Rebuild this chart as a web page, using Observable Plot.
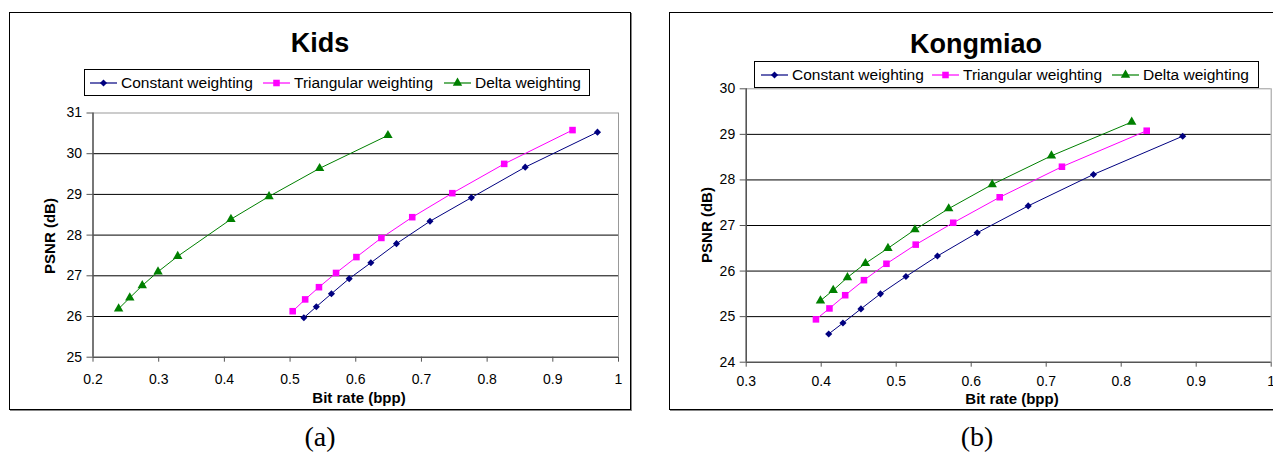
<!DOCTYPE html>
<html><head><meta charset="utf-8">
<script src="https://cdn.jsdelivr.net/npm/d3@7"></script>
<script src="https://cdn.jsdelivr.net/npm/@observablehq/plot@0.6"></script>
<style>
html,body{margin:0;padding:0;background:#fff;}
#root{position:relative;width:1273px;height:452px;overflow:hidden;font-family:"Liberation Sans",Arial,sans-serif;color:#000;}
.frame{position:absolute;border:1px solid #000;box-shadow:1px 1px 0 #888;box-sizing:border-box;}
.abs{position:absolute;white-space:nowrap;line-height:1.15;}
.title{font-weight:bold;font-size:27px;transform:translate(-50%,-50%);}
.axlab{font-weight:bold;font-size:15px;line-height:1;transform:translate(-50%,-50%);}
.ylab{transform:translate(-50%,-50%) rotate(-90deg);}
.cap{font-family:"Liberation Serif","Times New Roman",serif;font-size:28px;transform:translate(-50%,-50%);}
.legend{position:absolute;border:1px solid #000;box-sizing:border-box;background:#fff;}
.litem{position:absolute;top:0;height:100%;display:flex;align-items:center;font-size:15.5px;white-space:nowrap;}
.litem svg{margin-right:4px;overflow:visible;}
.plotwrap{position:absolute;top:0;}
</style></head><body><div id="root"></div>
<script>
// ---- data ----
const seriesNames = ["Constant weighting", "Triangular weighting", "Delta weighting"];
const seriesColors = ["#000080", "#FF00FF", "#008000"];
const seriesSymbols = ["diamond2", "square", "triangle"];

const kidsTitle = "Kids";
const kidsConstX = [0.521, 0.540, 0.563, 0.590, 0.623, 0.662, 0.713, 0.776, 0.858, 0.968];
const kidsConstY = [25.97, 26.24, 26.56, 26.93, 27.32, 27.79, 28.34, 28.92, 29.67, 30.53];
const kidsTriX = [0.504, 0.523, 0.544, 0.570, 0.601, 0.639, 0.686, 0.747, 0.826, 0.930];
const kidsTriY = [26.13, 26.42, 26.72, 27.07, 27.46, 27.93, 28.44, 29.03, 29.75, 30.58];
const kidsDeltaX = [0.239, 0.256, 0.275, 0.299, 0.329, 0.410, 0.468, 0.545, 0.649];
const kidsDeltaY = [26.19, 26.46, 26.76, 27.10, 27.48, 28.39, 28.95, 29.64, 30.45];
const kidsXTicks = [0.2, 0.3, 0.4, 0.5, 0.6, 0.7, 0.8, 0.9, 1];
const kidsYTicks = [25, 26, 27, 28, 29, 30, 31];

const kongTitle = "Kongmiao";
const kongConstX = [0.410, 0.429, 0.453, 0.479, 0.513, 0.555, 0.608, 0.676, 0.763, 0.882];
const kongConstY = [24.62, 24.86, 25.17, 25.50, 25.88, 26.33, 26.84, 27.43, 28.12, 28.96];
const kongTriX = [0.393, 0.411, 0.432, 0.457, 0.487, 0.526, 0.576, 0.638, 0.721, 0.834];
const kongTriY = [24.94, 25.18, 25.47, 25.80, 26.16, 26.58, 27.06, 27.62, 28.29, 29.08];
const kongDeltaX = [0.399, 0.416, 0.435, 0.459, 0.489, 0.525, 0.570, 0.628, 0.707, 0.814];
const kongDeltaY = [25.35, 25.58, 25.86, 26.17, 26.50, 26.91, 27.37, 27.90, 28.53, 29.27];
const kongXTicks = [0.3, 0.4, 0.5, 0.6, 0.7, 0.8, 0.9, 1];
const kongYTicks = [24, 25, 26, 27, 28, 29, 30];

const xLabel = "Bit rate (bpp)";
const yLabel = "PSNR (dB)";
const captions = ["(a)", "(b)"];

// ---- helpers ----
const symbolRadius = [3.2, 3.7, 3.5];
const d3Sym = {diamond2: d3.symbolDiamond2, square: d3.symbolSquare, triangle: d3.symbolTriangle};

function rowsOf(pairs) {
  const rows = [];
  pairs.forEach(([xs, ys], i) => xs.forEach((x, j) => rows.push({series: seriesNames[i], x, y: ys[j]})));
  return rows;
}

function chart(rows, xTicks, yTicks, width, height, m, xPad) {
  const xd = [xTicks[0], xTicks[xTicks.length - 1]];
  const yd = [yTicks[0], yTicks[yTicks.length - 1]];
  const fmt = d => `${d}`;
  return Plot.plot({
    width, height,
    marginLeft: m[0], marginRight: m[1], marginTop: m[2], marginBottom: m[3],
    style: {fontFamily: '"Liberation Sans", Arial, sans-serif', fontSize: "14px", background: "transparent", overflow: "visible", color: "#000"},
    x: {domain: xd, label: null},
    y: {domain: yd, label: null},
    color: {domain: seriesNames, range: seriesColors},
    symbol: {domain: seriesNames, range: seriesSymbols},
    marks: [
      Plot.ruleY(yTicks.slice(1, -1), {stroke: "#000", strokeWidth: 1}),
      Plot.ruleY([yd[1]], {stroke: "#999", strokeWidth: 1}),
      Plot.ruleX([xd[1]], {stroke: "#999", strokeWidth: 1}),
      Plot.ruleX([xd[0]], {stroke: "#555", strokeWidth: 1.6}),
      Plot.ruleY([yd[0]], {stroke: "#555", strokeWidth: 1.6}),
      Plot.axisY({ticks: yTicks, tickSize: 6, tickPadding: 5, tickFormat: fmt, stroke: "#555", fill: "#000"}),
      Plot.axisX({ticks: xTicks, tickSize: 5, tickPadding: xPad, tickFormat: fmt, stroke: "#555", fill: "#000"}),
      Plot.line(rows, {x: "x", y: "y", z: "series", stroke: "series", strokeWidth: 1}),
      ...seriesNames.map((s, i) => Plot.dot(rows.filter(d => d.series === s), {x: "x", y: "y", fill: "series", symbol: "series", r: symbolRadius[i]}))
    ]
  });
}

function legendItemSvg(i) {
  const r = symbolRadius[i];
  const path = d3.symbol().type(d3Sym[seriesSymbols[i]]).size(Math.PI * r * r)();
  return `<svg width="27" height="12"><line x1="0" x2="27" y1="6" y2="6" stroke="${seriesColors[i]}" stroke-width="1.2"/><path transform="translate(13.5,6)" d="${path}" fill="${seriesColors[i]}"/></svg>`;
}

function panel(root, o) {
  const f = document.createElement("div");
  f.className = "frame";
  Object.assign(f.style, {left: o.frame[0] + "px", top: o.frame[1] + "px", width: o.frame[2] + "px", height: o.frame[3] + "px"});
  root.appendChild(f);

  const w = document.createElement("div");
  w.className = "plotwrap";
  w.style.left = o.svgLeft + "px";
  w.style.width = o.svgW + "px";
  w.appendChild(chart(o.rows, o.xTicks, o.yTicks, o.svgW, 452, o.margins, o.xPad));
  root.appendChild(w);

  const t = document.createElement("div");
  t.className = "abs title";
  t.textContent = o.title;
  Object.assign(t.style, {left: o.titlePos[0] + "px", top: o.titlePos[1] + "px"});
  root.appendChild(t);

  const lg = document.createElement("div");
  lg.className = "legend";
  Object.assign(lg.style, {left: o.legend[0] + "px", top: o.legend[1] + "px", width: o.legend[2] + "px", height: o.legend[3] + "px"});
  seriesNames.forEach((s, i) => {
    const it = document.createElement("div");
    it.className = "litem";
    it.style.left = o.legendItems[i] + "px";
    it.innerHTML = legendItemSvg(i) + `<span>${s}</span>`;
    lg.appendChild(it);
  });
  root.appendChild(lg);

  const xl = document.createElement("div");
  xl.className = "abs axlab";
  xl.textContent = xLabel;
  Object.assign(xl.style, {left: o.xLabPos[0] + "px", top: o.xLabPos[1] + "px"});
  root.appendChild(xl);

  const yl = document.createElement("div");
  yl.className = "abs axlab ylab";
  yl.textContent = yLabel;
  Object.assign(yl.style, {left: o.yLabPos[0] + "px", top: o.yLabPos[1] + "px"});
  root.appendChild(yl);

  const c = document.createElement("div");
  c.className = "abs cap";
  c.textContent = o.caption;
  Object.assign(c.style, {left: o.capPos[0] + "px", top: o.capPos[1] + "px"});
  root.appendChild(c);
}

const root = document.getElementById("root");

panel(root, {
  frame: [9, 12, 622, 398],
  svgLeft: 0, svgW: 640,
  margins: [92.5, 22, 112.5, 95.3], xPad: 12,
  rows: rowsOf([[kidsConstX, kidsConstY], [kidsTriX, kidsTriY], [kidsDeltaX, kidsDeltaY]]),
  xTicks: kidsXTicks, yTicks: kidsYTicks,
  title: kidsTitle, titlePos: [320, 44],
  legend: [83.5, 69, 506, 27], legendItems: [5.5, 178.5, 359.5],
  xLabPos: [359, 396.5], yLabPos: [48.5, 236],
  caption: captions[0], capPos: [320, 437]
});

panel(root, {
  frame: [669, 12, 640, 398],
  svgLeft: 640, svgW: 633,
  margins: [105.7, 2.3, 88.3, 90.3], xPad: 9,
  rows: rowsOf([[kongConstX, kongConstY], [kongTriX, kongTriY], [kongDeltaX, kongDeltaY]]),
  xTicks: kongXTicks, yTicks: kongYTicks,
  title: kongTitle, titlePos: [976, 45],
  legend: [754, 61, 505, 27], legendItems: [6, 177, 357],
  xLabPos: [1012, 397.5], yLabPos: [705.5, 225],
  caption: captions[1], capPos: [977, 437]
});
</script>
</body></html>
